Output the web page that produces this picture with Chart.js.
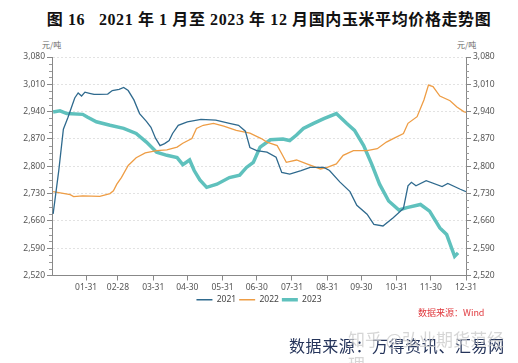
<!DOCTYPE html>
<html lang="zh">
<head>
  <meta charset="UTF-8" />
  <title>2021-2023 国内玉米平均价格走势图</title>
  <style>
    * { box-sizing: border-box; margin: 0; padding: 0; }
    body {
      width: 518px;
      height: 363px;
      background: #fff;
      position: relative;
      overflow: hidden;
      font-family: 'Noto Sans CJK SC', sans-serif;
    }
    .title {
      position: absolute;
      top: 6px;
      left: 0;
      width: 538px;
      text-align: center;
      font-family: 'Liberation Serif', 'Noto Sans CJK SC', serif;
      font-weight: bold;
      font-size: 16px;
      letter-spacing: 0.6px;
      color: #111;
      white-space: pre;
    }
    .unit {
      position: absolute;
      top: 39px;
      font-size: 8px;
      color: #666;
    }
    #chartBox {
      position: absolute;
      left: 0;
      top: 36px;
      width: 518px;
      height: 290px;
    }
    .wind {
      position: absolute;
      left: 418px;
      top: 306px;
      font-size: 9px;
      color: #e0393e;
    }
    .source {
      position: absolute;
      left: 289px;
      top: 333px;
      font-size: 16px;
      letter-spacing: 0.6px;
      color: #25345a;
      font-family: 'Noto Sans CJK SC', serif;
    }
    .mark {
      position: absolute;
      left: 348px;
      top: 326px;
      font-size: 17px;
      color: rgba(200, 200, 200, 0.75);
    }
  </style>
  <script src="https://cdn.jsdelivr.net/npm/chart.js"></script>
</head>
<body>
  <div class="title">图 16   2021 年 1 月至 2023 年 12 月国内玉米平均价格走势图</div>
  <div class="unit" style="left:42px">元/吨</div>
  <div class="unit" style="left:457px">元/吨</div>
  <div id="chartBox"><canvas id="priceChart"></canvas></div>
  <div class="wind">数据来源：Wind</div>
  <div class="source">数据来源：万得资讯、汇易网</div>
  <div class="mark">知乎 @弘业期货范经理</div>

  <script>
    // day of year -> price (元/吨)
    const days2021 = [2, 7, 11, 15, 18, 21, 24, 27, 30, 34, 38, 42, 50, 54, 60, 64, 68, 73, 78, 84, 88, 92, 96, 100, 104, 107, 112, 120, 132, 145, 157, 165, 171, 175, 181, 190, 198, 203, 210, 220, 228, 240, 245, 254, 263, 269, 278, 284, 292, 301, 310, 314, 317, 321, 330, 344, 349, 360, 365];
    const price2021 = [2678, 2790, 2895, 2925, 2950, 2975, 2988, 2980, 2990, 2987, 2984, 2984, 2985, 2994, 2997, 3002, 2994, 2970, 2935, 2915, 2900, 2872, 2853, 2858, 2866, 2884, 2905, 2914, 2920, 2918, 2910, 2905, 2890, 2848, 2840, 2836, 2823, 2784, 2780, 2789, 2797, 2797, 2789, 2760, 2735, 2700, 2677, 2651, 2647, 2668, 2692, 2750, 2759, 2750, 2763, 2748, 2756, 2741, 2735];

    const days2022 = [2, 17, 20, 28, 43, 52, 55, 58, 62, 68, 75, 83, 93, 102, 111, 116, 124, 128, 134, 143, 152, 163, 175, 185, 190, 199, 203, 207, 216, 225, 237, 243, 251, 257, 266, 278, 287, 295, 301, 310, 314, 322, 328, 332, 336, 342, 351, 357, 363, 365];
    const price2022 = [2735, 2727, 2722, 2724, 2723, 2730, 2737, 2754, 2771, 2802, 2822, 2834, 2840, 2842, 2849, 2859, 2871, 2897, 2905, 2910, 2903, 2892, 2885, 2871, 2862, 2853, 2832, 2810, 2816, 2806, 2793, 2797, 2806, 2828, 2840, 2840, 2845, 2862, 2871, 2884, 2910, 2927, 2970, 3008, 3004, 2980, 2968, 2952, 2940, 2938];

    const days2023 = [2, 8, 14, 28, 32, 40, 52, 64, 75, 84, 93, 102, 111, 116, 122, 126, 131, 137, 146, 157, 166, 172, 178, 184, 193, 204, 210, 216, 222, 231, 240, 251, 260, 267, 275, 282, 289, 297, 306, 313, 325, 333, 342, 348, 355, 358];
    const price2023 = [2939, 2942, 2935, 2933, 2926, 2914, 2905, 2897, 2884, 2862, 2836, 2828, 2822, 2804, 2816, 2789, 2765, 2746, 2754, 2771, 2777, 2797, 2810, 2849, 2868, 2870, 2866, 2880, 2897, 2910, 2922, 2935, 2910, 2892, 2853, 2806, 2754, 2711, 2688, 2694, 2702, 2685, 2642, 2625, 2569, 2578];

    const monthEndDays = [31, 59, 90, 120, 151, 181, 212, 243, 273, 304, 334, 365];
    const monthEndLabels = ['01-31', '02-28', '03-31', '04-30', '05-31', '06-30', '07-31', '08-31', '09-30', '10-31', '11-30', '12-31'];

    const yMin = 2520, yMax = 3080, yStep = 70, yMinorStep = 17.5;

    function toPoints(days, prices) {
      return days.map((d, i) => ({ x: d, y: prices[i] }));
    }

    // little minor tick marks on both value axes
    const minorTicks = {
      id: 'minorTicks',
      afterDraw(chart) {
        const ctx = chart.ctx;
        ctx.save();
        ctx.strokeStyle = '#999';
        ctx.lineWidth = 1;
        ['y', 'y1'].forEach(id => {
          const s = chart.scales[id];
          const x = id === 'y' ? s.right : s.left;
          const dir = id === 'y' ? -1 : 1;
          for (let v = yMin; v <= yMax; v += yMinorStep) {
            if ((v - yMin) % yStep === 0) continue;
            const py = Math.round(s.getPixelForValue(v)) + 0.5;
            ctx.beginPath();
            ctx.moveTo(x, py);
            ctx.lineTo(x + dir * 3, py);
            ctx.stroke();
          }
        });
        ctx.restore();
      }
    };

    const tickFont = { family: "'Noto Sans', 'Open Sans', sans-serif", size: 8.5 };

    function valueAxis(position, drawGrid) {
      return {
        type: 'linear',
        position: position,
        min: yMin,
        max: yMax,
        ticks: {
          stepSize: yStep,
          padding: 2,
          color: '#555',
          font: tickFont,
          callback: v => v.toLocaleString('en-US')
        },
        grid: {
          drawOnChartArea: drawGrid,
          color: '#e2e2e2',
          tickLength: 5,
          tickColor: '#888'
        },
        border: { color: '#888', dash: [2, 2] },
        afterFit: s => { s.width = 52; }
      };
    }

    new Chart(document.getElementById('priceChart'), {
      type: 'line',
      data: {
        datasets: [
          { label: '2021', data: toPoints(days2021, price2021), borderColor: '#2f6a8e', backgroundColor: '#2f6a8e', borderWidth: 1.3 },
          { label: '2022', data: toPoints(days2022, price2022), borderColor: '#ee9d45', backgroundColor: '#ee9d45', borderWidth: 1.3 },
          { label: '2023', data: toPoints(days2023, price2023), borderColor: '#5fc1bd', backgroundColor: '#5fc1bd', borderWidth: 3.5 }
        ]
      },
      options: {
        responsive: true,
        maintainAspectRatio: false,
        animation: false,
        elements: { point: { radius: 0 }, line: { tension: 0 } },
        layout: { padding: { top: 21, bottom: 12 } },
        scales: {
          x: {
            type: 'linear',
            min: 1,
            max: 365,
            afterBuildTicks: s => { s.ticks = monthEndDays.map(v => ({ value: v })); },
            ticks: {
              autoSkip: false,
              maxRotation: 0,
              padding: 2,
              color: '#555',
              font: tickFont,
              callback: v => monthEndLabels[monthEndDays.indexOf(v)]
            },
            grid: { drawOnChartArea: false, tickLength: 5, tickColor: '#888' },
            border: { color: '#888' },
            afterFit: s => { s.height = 17; }
          },
          y: valueAxis('left', true),
          y1: valueAxis('right', false)
        },
        plugins: {
          legend: {
            position: 'bottom',
            labels: {
              usePointStyle: true,
              pointStyle: 'line',
              pointStyleWidth: 16,
              boxHeight: 6,
              padding: 3,
              color: '#444',
              font: tickFont
            }
          },
          tooltip: { enabled: false }
        }
      },
      plugins: [minorTicks]
    });
  </script>
</body>
</html>
